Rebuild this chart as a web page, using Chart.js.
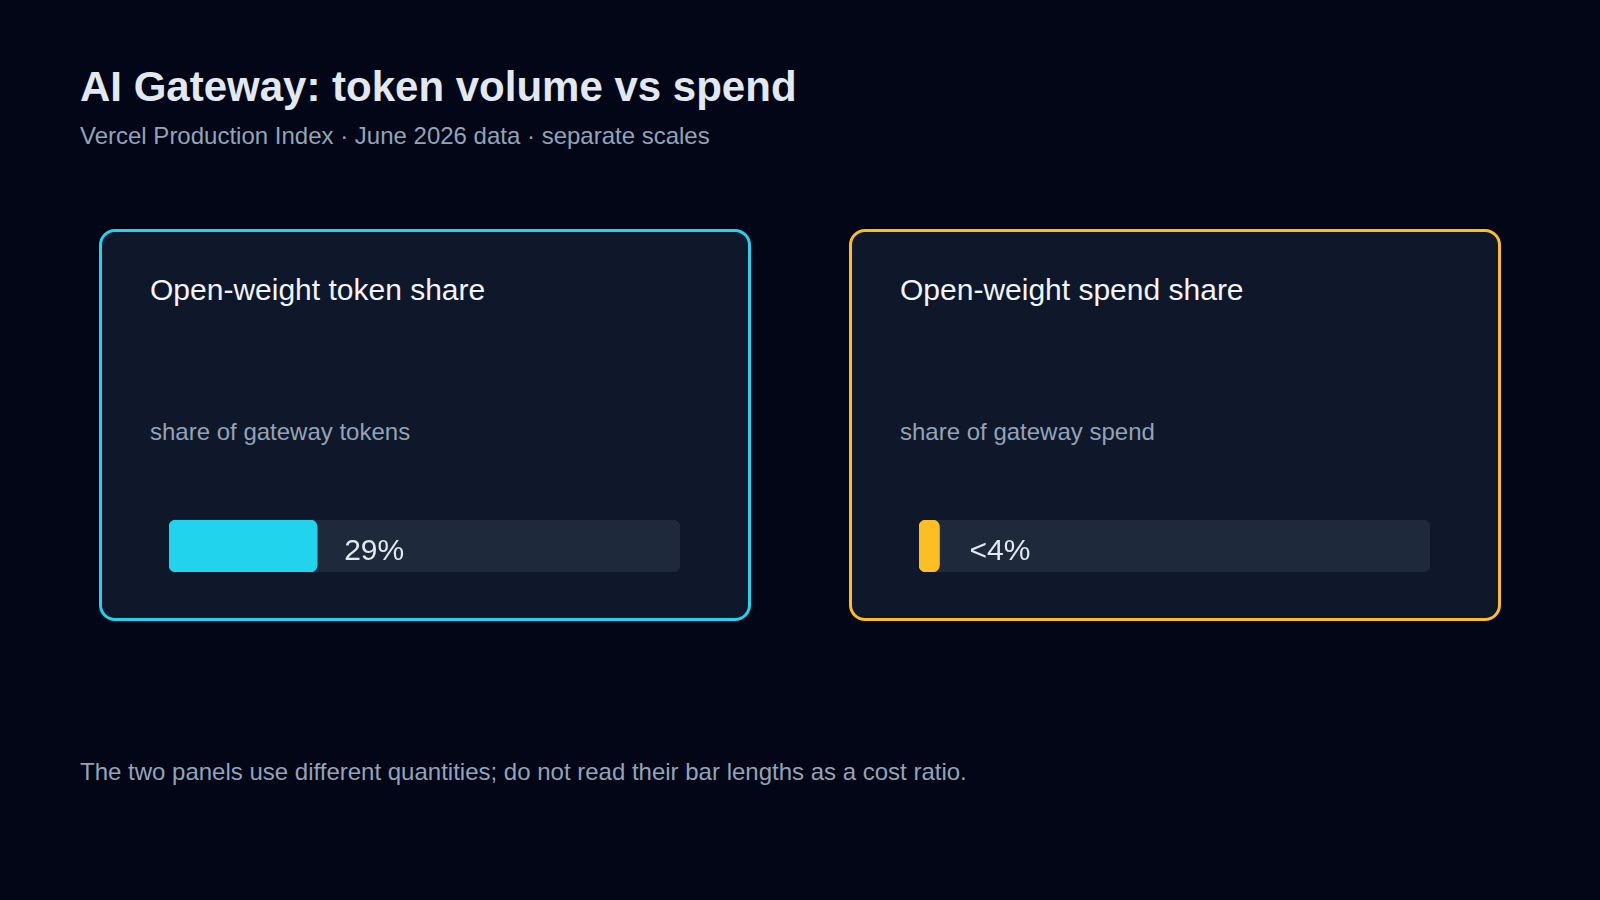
<!DOCTYPE html>
<html>
<head>
<meta charset="utf-8">
<script src="https://cdn.jsdelivr.net/npm/chart.js@4.4.1/dist/chart.umd.min.js"></script>
<style>
  html, body { margin:0; padding:0; width:1600px; height:900px; background:#020617; overflow:hidden; }
  body { position:relative; font-family:"Liberation Sans", Arial, Helvetica, sans-serif; }
  .t { position:absolute; line-height:1; white-space:nowrap; }
  .panel { position:absolute; box-sizing:border-box; background:#0f172a; border-radius:16px; border:3px solid; }
  .track { position:absolute; width:511px; height:51px; }
</style>
</head>
<body>
<div class="t" style="left:80px;top:66px;font-size:42px;font-weight:bold;color:#e2e8f0;">AI Gateway: token volume vs spend</div>
<div class="t" style="left:80px;top:124px;font-size:24px;color:#94a3b8;">Vercel Production Index · June 2026 data · separate scales</div>

<div class="panel" style="left:99px;top:229px;width:652px;height:392px;border-color:#22d3ee;"></div>
<div class="panel" style="left:849px;top:229px;width:652px;height:392px;border-color:#fbbf24;"></div>

<div class="t" id="pt0" style="left:150px;top:275px;font-size:30px;color:#f1f5f9;"></div>
<div class="t" id="ps0" style="left:150px;top:420px;font-size:24px;color:#94a3b8;"></div>
<div class="t" id="pt1" style="left:900px;top:275px;font-size:30px;color:#f1f5f9;"></div>
<div class="t" id="ps1" style="left:900px;top:420px;font-size:24px;color:#94a3b8;"></div>

<div class="track" style="left:169px;top:520px;"><canvas id="c0" width="511" height="52"></canvas></div>
<div class="track" style="left:919px;top:520px;"><canvas id="c1" width="511" height="52"></canvas></div>

<div class="t" style="left:80px;top:760px;font-size:24px;color:#94a3b8;">The two panels use different quantities; do not read their bar lengths as a cost ratio.</div>

<script>
const panelTitles = ["Open-weight token share", "Open-weight spend share"];
const panelSubtitles = ["share of gateway tokens", "share of gateway spend"];
const categories = ["Open-weight"];
const shareValues = [29, 4];
const valueLabels = ["29%", "<4%"];
const trackMax = [100, 100];
const barColors = ["#22d3ee", "#fbbf24"];

panelTitles.forEach((t, i) => { document.getElementById("pt" + i).textContent = t; });
panelSubtitles.forEach((t, i) => { document.getElementById("ps" + i).textContent = t; });

const labelPlugin = {
  id: "valueLabel",
  afterDatasetsDraw(chart, args, opts) {
    const meta = chart.getDatasetMeta(0);
    const bar = meta.data[0];
    if (!bar) return;
    const ctx = chart.ctx;
    ctx.save();
    ctx.font = "30px 'Liberation Sans', Arial, sans-serif";
    ctx.fillStyle = "#e2e8f0";
    ctx.textAlign = "left";
    ctx.textBaseline = "middle";
    ctx.fillText(opts.text, bar.x + opts.gap, bar.y + 6);
    ctx.restore();
  }
};

shareValues.forEach((v, i) => {
  new Chart(document.getElementById("c" + i), {
    type: "bar",
    data: {
      labels: categories,
      datasets: [
        { data: [v], backgroundColor: barColors[i], borderRadius: 7, borderSkipped: false, grouped: false, order: 0, barPercentage: 1, categoryPercentage: 1 },
        { data: [trackMax[i]], backgroundColor: "#1e293b", borderRadius: 7, borderSkipped: false, grouped: false, order: 1, barPercentage: 1, categoryPercentage: 1 }
      ]
    },
    options: {
      indexAxis: "y",
      responsive: false,
      animation: false,
      layout: { padding: 0 },
      plugins: { legend: { display: false }, tooltip: { enabled: false }, valueLabel: { text: valueLabels[i], gap: i === 0 ? 27 : 30 } },
      scales: {
        x: { display: false, min: 0, max: 100 },
        y: { display: false }
      }
    },
    plugins: [labelPlugin]
  });
});
</script>
</body>
</html>
